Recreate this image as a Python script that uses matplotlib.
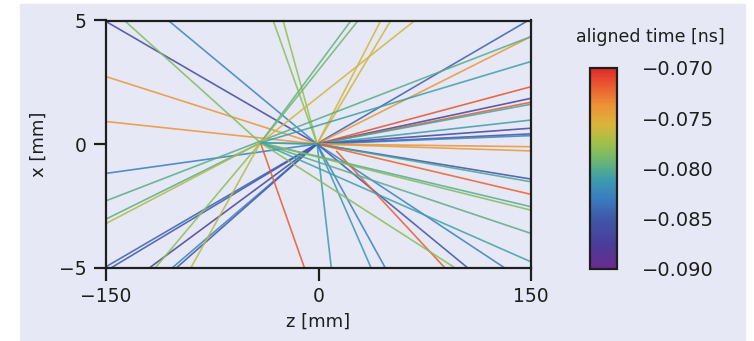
import numpy as np
import matplotlib
matplotlib.use("Agg")
import matplotlib.pyplot as plt
from matplotlib.collections import LineCollection
from matplotlib.colors import LinearSegmentedColormap, Normalize
from matplotlib.patches import Rectangle

plt.rcParams["font.family"] = ["DejaVu Sans"]

# track segments (z in mm, x in mm) and aligned time (ns)
z_start = [-150, -106, -150, -150, -150, -150, -146, -119, -103, -100,
           -32, -25, 44, 51,
           -1, -1, -1, -1, -1, -1, -1, -1, -1, -1, -1, -1, -1, -1,
           -1, -1, -1, -1, -1, 12.5,
           -41, -150, -41, -41, -41, -41, -41, -41, -41, -41,
           -41, -41, -41, -41, -41, -41, -41, -41]
x_start = [4.96, 5.0, 2.73, 0.91, -1.19, -4.97, -5.0, -5.0, -5.0, -5.0,
           5.0, 5.0, 5.0, 5.0,
           0, 0, 0, 0, 0, 0, 0, 0, 0, 0, 0, 0, 0, 0,
           0, 0, 0, 0, 0, -0.28,
           0.05, -2.30, 0.05, 0.05, 0.05, 0.05, 0.05, 0.05, 0.05, 0.05,
           0.05, 0.05, 0.05, 0.05, 0.05, 0.05, 0.05, 0.05]
z_end = [-1, -1, -1, -1, -1, 148, -1, -1, -1, -1,
         -1, -1, -1, -1,
         150, 150, 150, 150, 150, 150, 150, 150, 150, 150, 150, 150, 150, 150,
         9, 37, 47, 105, 131, 89,
         -137, 150, -150, -150, -115, -90, -10, 23, 28, 68,
         150, 150, 150, 150, 150, 96, -1, -1]
x_end = [0, 0, 0, 0, 0, 5.0, 0, 0, 0, 0,
         0, 0, 0, 0,
         4.35, 2.32, 1.85, 1.69, 1.61, 0.97, 0.64, 0.41, 0.34, -0.11, -0.28,
         -1.42, -1.53, -2.04,
         -5.0, -5.0, -5.0, -5.0, -5.0, -5.0,
         5.0, 4.35, -3.04, -3.22, -5.0, -5.0, -5.0, 5.0, 5.0, 5.0,
         3.34, -2.54, -2.68, -3.62, -4.77, -5.0, 0, 0]
t_aligned = [-0.0865, -0.0825, -0.0738, -0.0738, -0.0830, -0.0845, -0.0850,
             -0.0870, -0.0825, -0.0850,
             -0.0780, -0.0778, -0.0758, -0.0760,
             -0.0740, -0.0715, -0.0870, -0.0718, -0.0805, -0.0810, -0.0868,
             -0.0850, -0.0828, -0.0738, -0.0742, -0.0855, -0.0805, -0.0720,
             -0.0812, -0.0815, -0.0828, -0.0855, -0.0828, -0.0718,
             -0.0785, -0.0800, -0.0798, -0.0770, -0.0780, -0.0768, -0.0718,
             -0.0795, -0.0790, -0.0760,
             -0.0810, -0.0800, -0.0785, -0.0800, -0.0808, -0.0782,
             -0.0800, -0.0810]

t_ticks = [-0.090, -0.085, -0.080, -0.075, -0.070]

BG = "#e6e9f5"
INK = "#1e1e1e"
cmap = LinearSegmentedColormap.from_list("aligned", [
    (0.00, "#6a2a8e"), (0.12, "#4a3c9a"), (0.25, "#3e58a8"),
    (0.35, "#3a7cc2"), (0.45, "#3c9eaa"), (0.55, "#72b86c"),
    (0.63, "#a2c048"), (0.72, "#dab43c"), (0.82, "#ee9036"),
    (0.90, "#ea6230"), (1.00, "#e0282a")])
norm = Normalize(vmin=-0.090, vmax=-0.070)

fig = plt.figure(figsize=(7.54, 3.41), dpi=100, facecolor="white")
fig.patches.append(Rectangle((20 / 754, 0), 725 / 754, 337 / 341,
                             transform=fig.transFigure, color=BG, zorder=-10))

ax = fig.add_axes([106 / 754, 1 - 267.5 / 341, 425 / 754, 247 / 341])
ax.set_facecolor(BG)

segs = [[(a, b), (c, d)] for a, b, c, d in zip(z_start, x_start, z_end, x_end)]
lc = LineCollection(segs, cmap=cmap, norm=norm, linewidths=1.2, alpha=0.85)
lc.set_array(np.array(t_aligned))
ax.add_collection(lc)

ax.set_xlim(-150, 150)
ax.set_ylim(-5, 5)
ax.set_xticks([-150, 0, 150])
ax.set_yticks([-5, 0, 5])
ax.tick_params(direction="out", length=9, width=1.6, labelsize=13.5,
               color=INK, labelcolor=INK, pad=5)
for sp in ax.spines.values():
    sp.set_linewidth(1.6)
    sp.set_color(INK)
ax.set_xlabel("z [mm]", fontsize=13, color=INK, labelpad=5)
ax.set_ylabel("x [mm]", fontsize=13, color=INK, labelpad=8)

cax = fig.add_axes([590 / 754, 1 - 269 / 341, 27 / 754, 201 / 341])
cb = fig.colorbar(lc, cax=cax, ticks=t_ticks)
cb.solids.set_alpha(1)
cb.outline.set_linewidth(1.6)
cb.outline.set_edgecolor(INK)
cax.tick_params(length=0, labelsize=14, pad=18, labelcolor=INK)
cax.set_yticklabels(["\u2212%.3f" % abs(v) for v in t_ticks])
fig.text(650 / 754, 1 - 37 / 341, "aligned time [ns]", ha="center",
         va="center", fontsize=12.5, color=INK)

fig.savefig("out.png", dpi=100, facecolor="white")
